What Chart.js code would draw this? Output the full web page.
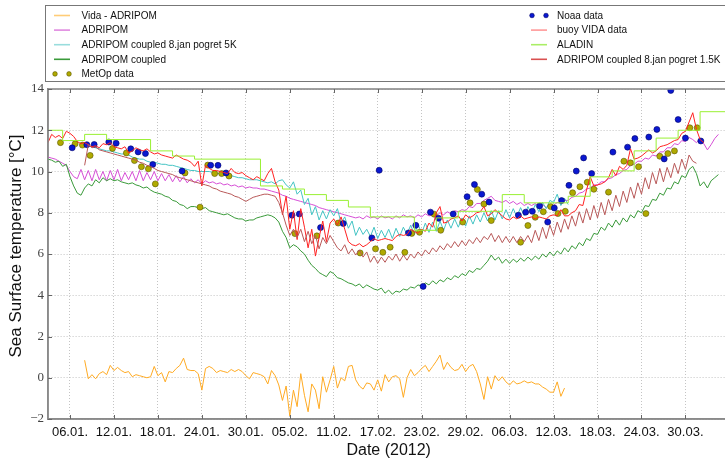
<!DOCTYPE html>
<html>
<head>
<meta charset="utf-8">
<script src="https://cdn.jsdelivr.net/npm/chart.js@4.4.1/dist/chart.umd.min.js"></script>
<style>
  html, body { margin: 0; padding: 0; background: #fff; overflow: hidden; }
  #wrap { position: relative; width: 733px; height: 460px; }
</style>
</head>
<body>
<div id="wrap"><canvas id="sstChart"></canvas></div>
<script>
// day numbers are days since 1 Jan 2012 (day 0 = 01.01.)
const tickDays = [5, 11, 17, 23, 29, 35, 41, 47, 53, 59, 65, 71, 77, 83, 89];
const tickLabels = ["06.01.", "12.01.", "18.01.", "24.01.", "30.01.", "05.02.", "11.02.", "17.02.",
  "23.02.", "29.02.", "06.03.", "12.03.", "18.03.", "24.03.", "30.03."];
const yTicks = [-2, 0, 2, 4, 6, 8, 10, 12, 14];
const yTitle = "Sea Surface temperature [\u00b0C]";

// model / buoy series, sampled every half day from their start day
const step = 0.5;

const vidaStart = 7;
const vidaMinusAdripom = [
  0.85, -0.05, 0.15, -0.05, 0.2, 0.3, 0.15, 0.6, 0.35, 0.5,
  0.35, 0.25, 0.3, 0.05, 0.15, 0.1, 0.05, 0.0, 0.05, 0.55,
  0.1, 0.25, -0.2, 0.3, 0.25, 0.45, 0.6, 0.95, 0.4, 0.35,
  0.35, 0.2, -0.6, 0.45, 0.55, 0.45, 0.25, 0.35, 0.3, 0.25,
  0.4, 0.3, 0.4, 0.3, 0.1, -0.05, 0.25, 0.2, 0.15, 0.05,
  -0.3, 0.35, 0.1, -0.35, -1.1, -0.4, -1.85, -0.6, -1.4, 0.2,
  -0.85, -1.65, -0.3, -0.6, -1.5, 0.05, -0.7, -0.1, 0.55, -0.5,
  0.0, -0.15, 0.55, 0.6, -0.1, -0.4, -0.55, -0.25, -0.3, -0.6,
  -0.1, -0.65, 0.15, -0.2, 0.05, 0.1, -0.05, -0.95, 0.0, 0.4,
  0.1, 0.25, 0.45, 0.6, 0.3, 0.55, 0.8, 1.1, 0.4, 0.75,
  0.5, 0.35, 0.4, 0.65, 0.3, 0.55, 0.65, 0.3, -0.3, -1.05,
  0.05, -0.55, 0.1, -0.15, 0.05, -0.2, -0.35, -0.15, -0.3, -0.25,
  -0.15, -0.25, -0.2, -0.3, -0.3, -0.45, -0.55, -0.7, -0.7, -0.2,
  -0.9, -0.5
];

const adripomStart = 2;
const adripom = [
  10.7, 10.65, 10.6, 10.5, 10.4, 10.3, 10.0, 9.75, 9.65, 10.1,
  9.6, 10.05, 9.55, 10.1, 9.6, 10.0, 9.55, 10.05, 9.6, 10.1,
  9.55, 9.95, 9.6, 10.0, 9.55, 10.05, 9.55, 9.95, 9.6, 10.0,
  9.55, 9.9, 9.55, 9.85, 9.5, 9.8, 9.5, 9.75, 9.45, 9.65,
  9.45, 9.6, 9.4, 9.55, 9.45, 9.5, 9.4, 9.45, 9.35, 9.4,
  9.3, 9.35, 9.25, 9.3, 9.2, 9.25, 9.2, 9.2, 9.15, 9.15,
  9.1, 9.05, 9.0, 8.95, 8.85, 8.8, 8.7, 8.65, 8.6, 8.55,
  8.5, 8.45, 8.4, 8.35, 8.25, 8.2, 8.15, 8.1, 8.05, 8.0,
  7.95, 7.9, 7.85, 7.8, 7.75, 7.8, 7.7, 7.85, 7.75, 7.8,
  7.7, 7.85, 7.75, 7.8, 7.7, 7.85, 7.75, 7.9, 7.8, 7.85,
  7.75, 7.9, 7.8, 7.95, 7.85, 7.9, 7.85, 8.0, 7.9, 8.05,
  7.95, 8.1, 8.05, 8.15, 8.1, 8.3, 8.25, 8.45, 8.45, 8.6,
  8.7, 8.8, 8.6, 8.55, 8.5, 8.6, 8.45, 8.55, 8.4, 8.5,
  8.35, 8.45, 8.35, 8.45, 8.3, 8.4, 8.25, 8.4, 8.35, 8.5,
  8.45, 8.6, 8.6, 8.75, 8.8, 8.95, 9.0, 9.15, 9.2, 9.35,
  9.35, 9.5, 9.5, 9.65, 9.7, 9.85, 9.9, 10.05, 10.1, 10.3,
  10.35, 10.5, 10.5, 10.65, 10.6, 10.8, 10.75, 10.95, 10.95, 11.15,
  11.15, 11.35, 11.3, 11.5, 11.45, 11.65, 11.55, 11.4, 11.6, 11.35,
  11.05, 11.3, 11.6, 11.8
];

const coupled5kStart = 7;
const coupled5k = [
  11.3, 11.25, 11.2, 11.15, 11.1, 11.05, 11.0, 11.0, 10.95, 10.9,
  10.85, 10.85, 10.8, 10.7, 10.65, 10.6, 10.6, 10.5, 10.45, 10.45,
  10.4, 10.35, 10.35, 10.3, 10.3, 10.25, 10.2, 10.15, 10.1, 10.05,
  10.05, 10.0, 10.0, 10.0, 10.0, 9.95, 9.9, 9.9, 9.85, 9.8,
  9.8, 9.75, 9.7, 9.7, 9.65, 9.6, 9.6, 9.6, 9.55, 9.5,
  9.45, 9.5, 9.4, 9.55, 9.6, 9.35, 9.2, 9.5, 8.9, 9.1,
  8.4, 8.7, 7.9, 8.3, 7.65, 8.1, 7.7, 8.15, 7.85, 8.2,
  7.5, 7.8, 7.25, 7.6, 6.9, 7.3, 6.95, 7.2, 6.85, 7.3,
  6.75, 7.15, 6.8, 7.2, 6.75, 7.25, 6.85, 7.3, 6.95, 7.4,
  6.95, 7.45, 7.0, 7.5, 7.05, 7.55, 7.1, 7.6, 7.15, 7.65,
  7.25, 7.7, 7.3, 7.75, 7.35, 7.85, 7.45, 7.9, 7.55, 8.0,
  7.6, 8.1, 7.65, 8.1, 7.7, 8.15, 7.75, 8.2, 7.8, 8.25,
  7.85, 8.3, 7.95, 8.4, 8.05, 8.5, 8.2, 8.6, 8.5, 8.9,
  8.35, 8.7, 8.4
];

const coupledStart = 2;
const coupled = [
  10.6, 10.55, 10.45, 10.5, 10.25, 10.35, 9.75, 9.3, 8.95, 8.85,
  9.2, 9.4, 9.3, 9.6, 9.45, 9.7, 9.55, 9.65, 9.55, 9.6,
  9.5, 9.45, 9.4, 9.45, 9.35, 9.3, 9.2, 9.25, 9.1, 9.0,
  8.95, 8.9, 8.8, 8.75, 8.6, 8.55, 8.4, 8.35, 8.2, 8.3,
  8.3, 8.25, 8.2, 8.25, 8.1, 8.05, 8.0, 7.95, 7.9, 7.95,
  7.85, 7.75, 7.7, 7.7, 7.6, 7.65, 7.65, 7.75, 7.8, 7.85,
  7.9, 7.85, 7.75, 7.55, 7.1, 6.8, 6.3, 6.45, 6.35, 6.15,
  6.0, 5.7, 5.45, 5.3, 5.1, 5.0, 4.9, 5.15, 5.05, 4.85,
  4.8, 4.7, 4.6, 4.55, 4.45, 4.55, 4.35, 4.5, 4.4, 4.3,
  4.25, 4.35, 4.1, 4.25, 4.05, 4.2, 4.15, 4.3, 4.25, 4.4,
  4.35, 4.5, 4.45, 4.6, 4.5, 4.7, 4.55, 4.75, 4.65, 4.85,
  4.75, 4.95, 4.85, 5.05, 4.95, 5.2, 5.1, 5.3, 5.25, 5.45,
  5.65, 5.95, 5.7, 5.85, 5.55, 5.75, 5.55, 5.75, 5.6, 5.8,
  5.65, 5.85, 5.7, 5.9, 5.75, 6.0, 5.85, 6.1, 5.9, 6.15,
  6.0, 6.3, 6.1, 6.4, 6.25, 6.55, 6.4, 6.75, 6.65, 7.0,
  6.95, 7.3, 7.15, 7.5, 7.3, 7.65, 7.4, 7.75, 7.55, 7.9,
  7.75, 8.1, 8.0, 8.35, 8.3, 8.65, 8.6, 8.95, 8.85, 9.2,
  9.15, 9.5, 9.4, 9.8, 9.7, 10.1, 10.25, 9.9, 9.3, 9.5,
  9.2, 9.55, 9.7, 9.85
];

const buoyStart = 2;
const buoyVida = [
  11.4, 11.8, 11.65, 11.75, 11.6, 11.95, 11.85, 11.7, 11.45, 11.35,
  11.4, 11.3, 11.2, 11.25, 11.15, 11.35, 11.3, 11.4, 11.2, 11.15,
  11.1, 11.2, 10.9, 11.0, 11.15, 11.05, 11.0, 11.1, 10.95, 10.85,
  10.9, 10.8, 10.75, 10.7, 10.65, 10.8, 10.7, 10.6, 10.55, 10.45,
  10.25, 10.5, 9.3, 10.3, 10.15, 10.05, 10.05, 10.0, 9.95, 9.9,
  10.15, 9.95, 9.9, 9.95, 9.8, 9.7, 9.6, 9.75, 9.65, 9.55,
  9.9, 10.15, 9.5, 9.1, 7.9, 8.8, 7.2, 8.1, 6.7, 8.2,
  7.3, 6.3, 7.2, 5.9, 6.8, 7.6, 6.6, 7.5, 7.7, 7.4,
  7.8, 7.2, 6.6, 6.45, 6.4, 6.5, 6.35, 6.45, 6.6, 6.75,
  6.65, 6.7, 6.75, 6.7, 6.65, 6.85, 6.95, 6.9, 6.95, 7.2,
  7.1, 7.0, 7.2, 7.1, 7.5, 7.3, 8.0, 8.3, 7.5, 7.55,
  7.7, 7.75, 7.85, 7.6, 7.9, 7.75, 7.85, 8.0, 8.05, 8.3,
  7.85, 7.95, 8.15, 8.0, 7.85, 7.7, 7.65, 7.8, 7.7, 7.85,
  7.7, 7.75, 7.8, 7.7, 7.8, 7.75, 7.7, 7.85, 7.9, 7.85,
  8.15, 7.85, 7.85, 8.0, 8.1, 8.4, 8.35, 9.1, 9.75, 9.3,
  9.35, 9.4, 9.5, 9.7, 10.1, 9.8, 10.25, 10.1, 10.3, 11.1,
  10.6, 10.65, 10.75, 10.9, 11.05, 10.9, 11.0, 11.2, 11.25, 11.3,
  11.4, 11.5, 11.55, 11.85, 11.95, 12.4, 12.85, 12.05, 11.55, 11.4
];

const coupled15kStart = 7;
const coupled15k = [
  10.3, 11.3, 11.15, 11.2, 11.05, 11.0, 10.95, 10.9, 10.85, 10.8,
  10.75, 10.7, 10.65, 10.6, 10.55, 10.45, 10.4, 10.3, 10.25, 10.15,
  10.05, 10.0, 9.95, 9.9, 9.85, 9.75, 9.7, 9.65, 9.6, 9.55,
  9.5, 9.45, 9.4, 9.35, 9.3, 9.2, 9.15, 9.05, 9.0, 8.95,
  8.9, 8.8, 8.75, 8.65, 8.55, 8.65, 8.75, 8.8, 8.85, 8.9,
  8.9, 8.85, 8.8, 8.5, 8.0, 7.4, 6.9, 7.2, 6.8, 7.2,
  6.6, 7.1, 6.5, 6.9, 6.25, 6.8, 6.5, 6.9, 6.6, 6.3,
  6.15, 6.45, 6.0, 6.25, 5.95, 6.2, 5.85, 6.1, 5.6, 5.9,
  5.55, 5.85, 5.6, 5.9, 5.7, 6.0, 5.65, 5.95, 5.7, 6.0,
  5.8, 6.1, 5.9, 6.2, 6.0, 6.3, 6.1, 6.4, 6.2, 6.5,
  6.3, 6.6, 6.35, 6.65, 6.4, 6.7, 6.5, 6.8, 6.55, 6.85,
  6.7, 7.0, 6.6, 6.9, 6.55, 6.85, 6.55, 6.85, 6.55, 6.85,
  6.6, 6.9, 6.55, 7.15, 6.65, 7.3, 6.75, 7.4, 6.9, 7.55,
  7.05, 7.7, 7.2, 7.85, 7.35, 8.05, 7.5, 8.2, 7.65, 8.35,
  7.75, 8.5, 7.9, 8.65, 8.1, 8.85, 8.3, 9.05, 8.5, 9.25,
  8.7, 9.45, 8.9, 9.7, 9.15, 9.95, 9.4, 10.15, 9.5, 10.2,
  9.7, 10.4, 9.9, 10.6, 10.1, 10.8, 10.5, 10.4
];

// ALADIN is a step series: value holds from each day until the next
const aladinDays = [2, 4, 7, 10, 16, 19, 22, 31, 34, 37, 40, 43, 46, 52, 55, 58, 64, 67, 73, 76, 79, 82, 85, 88, 91, 95];
const aladinValues = [12.0, 11.5, 11.8, 11.55, 11.0, 10.75, 10.6, 9.3, 9.15, 8.88, 8.6, 8.28, 7.8, 7.15, 7.75,
  8.07, 8.88, 8.48, 8.8, 9.74, 10.03, 11.0, 11.62, 12.0, 12.9, 12.9];

// satellite points
const metopDays = [3.7, 5.7, 6.7, 7.75, 10.8, 12.7, 13.8, 14.75, 15.7, 16.65, 20.7, 22.75, 23.8, 24.75, 25.7, 26.7,
  35.7, 38.7, 41.6, 44.6, 46.7, 47.7, 48.7, 50.7, 51.65, 52.7, 54.7, 55.6, 58.6, 59.6, 60.6, 61.5, 62.5,
  66.5, 67.5, 68.5, 69.6, 70.6, 71.6, 72.6, 73.6, 74.6, 75.6, 76.5, 78.5, 80.6, 81.5, 82.6, 83.6, 85.5,
  86.6, 87.5, 89.6, 90.6];
const metopValues = [11.4, 11.34, 11.28, 10.78, 11.12, 10.9, 10.53, 10.23, 10.13, 9.4, 9.93, 8.27, 10.31, 9.9, 9.9, 9.78,
  6.99, 6.88, 7.5, 6.05, 6.25, 6.08, 6.33, 6.08, 7.0, 7.05, 7.93, 7.15, 7.55, 8.48, 9.13, 8.42, 7.62,
  6.57, 7.38, 7.78, 8.05, 8.3, 7.96, 8.07, 8.97, 9.26, 9.48, 9.14, 9.0, 10.5, 10.42, 10.23, 7.96, 10.74,
  10.87, 11.0, 12.12, 12.12];

const noaaDays = [5.3, 7.3, 8.3, 10.3, 11.3, 13.3, 14.3, 15.3, 16.3, 20.3, 24.2, 25.2, 26.3, 35.3, 36.3, 39.2,
  42.3, 46.2, 47.2, 51.2, 52.2, 53.2, 54.2, 55.3, 57.3, 59.2, 60.2, 61.2, 62.2, 66.2, 67.2, 68.1, 69.1,
  70.2, 71.1, 72.1, 73.1, 74.1, 75.1, 76.2, 79.1, 81.1, 82.1, 84.0, 85.1, 86.1, 87.0, 88.0, 89.0, 91.1];
const noaaValues = [11.15, 11.3, 11.31, 11.43, 11.37, 11.1, 10.95, 10.87, 10.34, 10.02, 10.3, 10.3, 9.93, 7.88, 7.94, 7.28,
  7.48, 6.78, 10.06, 7.02, 7.39, 4.43, 8.03, 7.73, 7.94, 8.78, 9.37, 8.9, 8.52, 7.88, 8.03, 8.07, 8.33,
  7.55, 8.23, 8.59, 9.33, 10.02, 10.66, 9.9, 10.94, 11.18, 11.6, 11.67, 12.04, 10.61, 13.93, 12.52, 11.62, 11.48];

function halfDaySeries(start, values) {
  return values.map((v, i) => ({ x: start + i * step, y: v }));
}

function pairs(xs, ys) {
  return xs.map((x, i) => ({ x: x, y: ys[i] }));
}

function lineSet(label, data, color, legendColor, extra) {
  return Object.assign({
    label: label,
    data: data,
    borderColor: color,
    legendColor: legendColor,
    borderWidth: 1,
    pointRadius: 0,
    tension: 0,
    fill: false
  }, extra || {});
}

function dotSet(label, data, fillColor, edgeColor) {
  return {
    label: label,
    data: data,
    showLine: false,
    pointRadius: 3,
    pointHoverRadius: 3,
    pointBackgroundColor: fillColor,
    pointBorderColor: edgeColor,
    pointBorderWidth: 0.6,
    backgroundColor: fillColor,
    borderColor: edgeColor
  };
}

const datasets = [
  lineSet("Vida - ADRIPOM", halfDaySeries(vidaStart, vidaMinusAdripom), "#ffaa22", "#ffcc77"),
  lineSet("ADRIPOM", halfDaySeries(adripomStart, adripom), "#d64fd6", "#e08ae0"),
  lineSet("ADRIPOM coupled 8.jan pogret 5K", halfDaySeries(coupled5kStart, coupled5k), "#44c4c4", "#99dddd"),
  lineSet("ADRIPOM coupled", halfDaySeries(coupledStart, coupled), "#3a9a3a", "#3a9a3a"),
  dotSet("MetOp data", pairs(metopDays, metopValues), "#b0aa00", "#5a5500"),
  dotSet("Noaa data", pairs(noaaDays, noaaValues), "#0a18d0", "#000066"),
  lineSet("buoy VIDA data", halfDaySeries(buoyStart, buoyVida), "#ff2222", "#ff9999"),
  lineSet("ALADIN", pairs(aladinDays, aladinValues), "#99f033", "#aaee66", { stepped: true }),
  lineSet("ADRIPOM coupled 8.jan pogret 1.5K", halfDaySeries(coupled15kStart, coupled15k), "#b85858", "#d95050")
];
// first entry in the legend is drawn first (at the bottom)
datasets.forEach((d, i) => { d.order = datasets.length - i; });

// legend box above the axes, two columns like the original
const boxLegend = {
  id: "boxLegend",
  afterDraw(chart) {
    const ctx = chart.ctx;
    ctx.save();
    ctx.strokeStyle = "#777";
    ctx.lineWidth = 1;
    ctx.strokeRect(45.5, 5.5, 690, 76);
    ctx.font = '10px "Liberation Sans"';
    ctx.textBaseline = "middle";
    chart.data.datasets.forEach((ds, i) => {
      const col = i < 5 ? 0 : 1;
      const row = col ? i - 5 : i;
      const x0 = col ? 531 : 54;
      const y = 15.5 + row * 14.6;
      if (ds.showLine === false) {
        [x0 + 1, x0 + 15].forEach(px => {
          ctx.beginPath();
          ctx.arc(px, y, 2.3, 0, Math.PI * 2);
          ctx.fillStyle = ds.pointBackgroundColor;
          ctx.fill();
          ctx.lineWidth = 0.6;
          ctx.strokeStyle = ds.pointBorderColor;
          ctx.stroke();
        });
      } else {
        ctx.beginPath();
        ctx.moveTo(x0, y);
        ctx.lineTo(x0 + 16, y);
        ctx.lineWidth = 1.6;
        ctx.strokeStyle = ds.legendColor;
        ctx.stroke();
      }
      ctx.fillStyle = "#111";
      ctx.fillText(ds.label, col ? 557 : 81.5, y + 0.5);
    });
    ctx.restore();
  }
};

// full frame around the plot, inward tick marks, and the y title
const plotFrame = {
  id: "plotFrame",
  afterDatasetsDraw(chart) {
    const a = chart.chartArea;
    const ctx = chart.ctx;
    const sx = chart.scales.x, sy = chart.scales.y;
    ctx.save();
    ctx.strokeStyle = "#8a8a8a";
    ctx.lineWidth = 1.6;
    ctx.strokeRect(a.left, a.top, a.right - a.left, a.bottom - a.top);
    ctx.lineWidth = 1;
    ctx.strokeStyle = "#666";
    ctx.beginPath();
    tickDays.forEach(d => {
      const px = Math.round(sx.getPixelForValue(d)) + 0.5;
      ctx.moveTo(px, a.bottom); ctx.lineTo(px, a.bottom - 4);
      ctx.moveTo(px, a.top); ctx.lineTo(px, a.top + 4);
    });
    yTicks.forEach(v => {
      const py = Math.round(sy.getPixelForValue(v)) + 0.5;
      ctx.moveTo(a.left, py); ctx.lineTo(a.left + 4, py);
      ctx.moveTo(a.right, py); ctx.lineTo(a.right - 4, py);
    });
    ctx.stroke();
    ctx.restore();
  },
  afterDraw(chart) {
    const ctx = chart.ctx;
    ctx.save();
    ctx.translate(16, 246);
    ctx.rotate(-Math.PI / 2);
    ctx.font = '17px "Liberation Sans"';
    ctx.fillStyle = "#111";
    ctx.textAlign = "center";
    ctx.textBaseline = "middle";
    ctx.fillText(yTitle, 0, 0);
    ctx.restore();
  }
};

new Chart(document.getElementById("sstChart"), {
  type: "line",
  data: { datasets: datasets },
  options: {
    responsive: true,
    maintainAspectRatio: false,
    animation: false,
    devicePixelRatio: 1,
    layout: { padding: { top: 89, left: 0, right: 0, bottom: 0 } },
    plugins: {
      legend: { display: false },
      tooltip: { enabled: false }
    },
    scales: {
      x: {
        type: "linear",
        min: 2,
        max: 95,
        afterBuildTicks: s => { s.ticks = tickDays.map(v => ({ value: v })); },
        afterFit: s => { s.height = 41; },
        ticks: {
          autoSkip: false,
          maxRotation: 0,
          padding: 6,
          color: "#111",
          font: { family: "Liberation Sans", size: 13 },
          callback: v => tickLabels[tickDays.indexOf(v)]
        },
        grid: { color: "#c4c4c4", lineWidth: 1, drawTicks: false },
        border: { color: "#8a8a8a", width: 1.6, dash: [1, 2] },
        title: {
          display: true,
          text: "Date (2012)",
          color: "#111",
          font: { family: "Liberation Sans", size: 16 },
          padding: { top: 0, bottom: 0 }
        }
      },
      y: {
        min: -2,
        max: 14,
        afterBuildTicks: s => { s.ticks = yTicks.map(v => ({ value: v })); },
        afterFit: s => { s.width = 48; },
        ticks: {
          padding: 4,
          color: "#444",
          font: { family: "Liberation Serif", size: 13 },
          callback: v => (v < 0 ? "\u2212" + Math.abs(v) : String(v))
        },
        grid: { color: "#c4c4c4", lineWidth: 1, drawTicks: false },
        border: { color: "#8a8a8a", width: 1.6, dash: [1, 2] },
        title: { display: false }
      }
    }
  },
  plugins: [boxLegend, plotFrame]
});
</script>
</body>
</html>
